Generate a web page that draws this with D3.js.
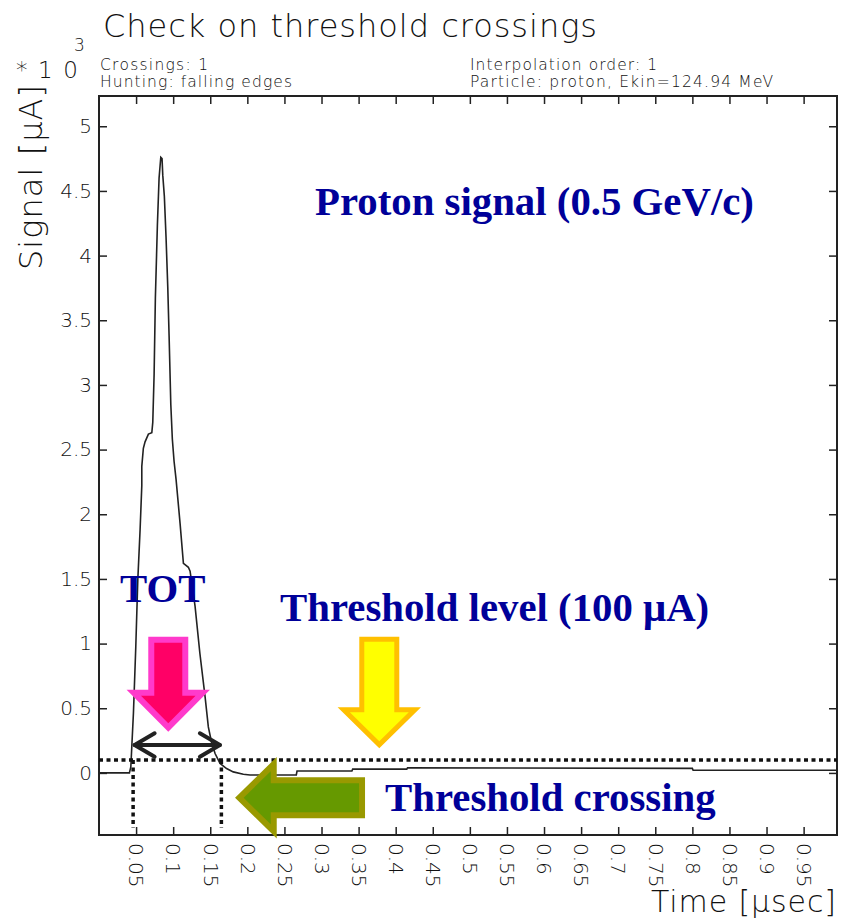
<!DOCTYPE html>
<html>
<head>
<meta charset="utf-8">
<script src="https://cdn.jsdelivr.net/npm/d3@7"></script>
<style>
  html, body { margin: 0; padding: 0; background: #fff; }
  svg { display: block; }
  .thin { font-family: "DejaVu Sans", "Noto Sans", sans-serif; font-weight: 200; fill: #111; }
  .note { font-family: "Liberation Serif", "Times New Roman", serif; font-weight: bold; fill: #000099; font-size: 40.8px; }
</style>
</head>
<body>
<script>
// Pulse shape: time in µs, signal in units of 10^3 µA
const time = [0, 0.041, 0.0429, 0.0442, 0.0464, 0.0496, 0.0523, 0.0554, 0.0577, 0.0577,
  0.0598, 0.0621, 0.0666, 0.0712, 0.0725, 0.0743, 0.0760, 0.0787, 0.0810, 0.0833,
  0.0850, 0.0860, 0.0881, 0.0904, 0.0927, 0.0945, 0.0968, 0.0989, 0.1012, 0.1039,
  0.1093, 0.1138, 0.1160, 0.1205, 0.1228, 0.1295, 0.1360, 0.1430, 0.1474, 0.1520,
  0.1565, 0.1632, 0.1720, 0.1810, 0.1946, 0.2036, 0.266, 0.267, 0.341, 0.342,
  0.415, 0.416, 0.800, 0.801, 0.995];
const signal = [0, 0, 0.046, 0.20, 0.46, 0.976, 1.49, 1.88, 2.22, 2.37,
  2.51, 2.56, 2.62, 2.63, 2.71, 3.08, 3.67, 4.23, 4.60, 4.76,
  4.75, 4.62, 4.46, 4.14, 3.76, 3.38, 2.85, 2.58, 2.41, 2.27,
  1.93, 1.62, 1.61, 1.59, 1.56, 1.29, 0.925, 0.59, 0.356, 0.23,
  0.15, 0.073, 0.034, 0.008, -0.01, -0.016, -0.016, 0.015, 0.015, 0.029,
  0.029, 0.04, 0.035, 0.021, 0.021];

const threshold = 0.1;            // 100 µA
const crossingTimes = [0.046, 0.165];

const xTicks = [0.05, 0.1, 0.15, 0.2, 0.25, 0.3, 0.35, 0.4, 0.45, 0.5,
  0.55, 0.6, 0.65, 0.7, 0.75, 0.8, 0.85, 0.9, 0.95];
const xTickLabels = ["0.05", "0.1", "0.15", "0.2", "0.25", "0.3", "0.35", "0.4", "0.45", "0.5",
  "0.55", "0.6", "0.65", "0.7", "0.75", "0.8", "0.85", "0.9", "0.95"];
const yTicks = [0, 0.5, 1, 1.5, 2, 2.5, 3, 3.5, 4, 4.5, 5];
const yTickLabels = ["0", "0.5", "1", "1.5", "2", "2.5", "3", "3.5", "4", "4.5", "5"];

const W = 842, H = 921;
const L = 99, R = 837, T = 96, B = 835;

const svg = d3.select("body").append("svg").attr("width", W).attr("height", H);

const x = d3.scaleLinear().domain([0, 0.995]).range([L, R]);
const y = d3.scaleLinear().domain([-0.48, 5.234]).range([B, T]);

// Frame
svg.append("rect").attr("x", L).attr("y", T).attr("width", R - L).attr("height", B - T)
  .attr("fill", "none").attr("stroke", "#222").attr("stroke-width", 2);

function styleAxis(g) {
  g.select(".domain").remove();
  g.selectAll(".tick line").attr("stroke", "#222").attr("stroke-width", 1.5);
  g.selectAll("text").attr("class", "thin").style("font-size", "20px").attr("fill", "#111");
}

const gL = svg.append("g").attr("transform", `translate(${L},0)`)
  .call(d3.axisLeft(y).tickValues(yTicks).tickFormat((d, i) => yTickLabels[i])
    .tickSizeInner(-8).tickSizeOuter(0).tickPadding(7));
styleAxis(gL);

const gR = svg.append("g").attr("transform", `translate(${R},0)`)
  .call(d3.axisRight(y).tickValues(yTicks).tickFormat("").tickSizeInner(-8).tickSizeOuter(0));
styleAxis(gR);

const gB = svg.append("g").attr("transform", `translate(0,${B})`)
  .call(d3.axisBottom(x).tickValues(xTicks).tickFormat((d, i) => xTickLabels[i])
    .tickSizeInner(-8).tickSizeOuter(0));
styleAxis(gB);
gB.selectAll("text")
  .attr("transform", "rotate(90)").attr("x", 8).attr("y", 0).attr("dy", "0.36em")
  .style("text-anchor", "start");

const gT = svg.append("g").attr("transform", `translate(0,${T})`)
  .call(d3.axisTop(x).tickValues(xTicks).tickFormat("").tickSizeInner(-8).tickSizeOuter(0));
styleAxis(gT);

// Titles and info lines
svg.append("text").attr("class", "thin").attr("x", 103).attr("y", 37)
  .style("font-size", "32px").attr("textLength", 494).text("Check on threshold crossings");
svg.append("text").attr("class", "thin").attr("x", 16).attr("y", 78)
  .style("font-size", "23px").attr("textLength", 62).text("*10");
svg.append("text").attr("class", "thin").attr("x", 74).attr("y", 51)
  .style("font-size", "17px").text("3");

const info = [
  { t: "Crossings: 1", x: 100, y: 70, w: 108 },
  { t: "Hunting: falling edges", x: 100, y: 87, w: 192 },
  { t: "Interpolation order: 1", x: 470, y: 69.5, w: 187 },
  { t: "Particle: proton, Ekin=124.94 MeV", x: 470, y: 87, w: 303 }
];
svg.selectAll("text.info").data(info).enter().append("text")
  .attr("class", "thin info").attr("x", d => d.x).attr("y", d => d.y)
  .style("font-size", "15.5px").attr("textLength", d => d.w).text(d => d.t);

svg.append("text").attr("class", "thin")
  .attr("transform", "translate(42,270) rotate(-90)")
  .style("font-size", "32px").attr("textLength", 185).text("Signal [\u03bcA]");
svg.append("text").attr("class", "thin").attr("x", 836).attr("y", 912)
  .style("text-anchor", "end").style("font-size", "30px").attr("textLength", 185)
  .text("Time [\u03bcsec]");

// Pulse curve
svg.append("clipPath").attr("id", "plotClip").append("rect")
  .attr("x", L).attr("y", T).attr("width", R - L).attr("height", B - T);
const pts = time.map((t, i) => [t, signal[i]]);
svg.append("path").datum(pts).attr("clip-path", "url(#plotClip)")
  .attr("fill", "none").attr("stroke", "#222").attr("stroke-width", 1.6)
  .attr("d", d3.line().x(d => x(d[0])).y(d => y(d[1])));

// Threshold level and crossing markers
const dotted = { stroke: "#111", "stroke-width": 3.5, "stroke-dasharray": "4 3.5" };
function applyAttrs(sel, a) { Object.entries(a).forEach(([k, v]) => sel.attr(k, v)); return sel; }
applyAttrs(svg.append("line").attr("x1", L).attr("x2", R)
  .attr("y1", y(threshold)).attr("y2", y(threshold)), dotted);
crossingTimes.forEach(t => {
  applyAttrs(svg.append("line").attr("x1", x(t)).attr("x2", x(t))
    .attr("y1", y(threshold)).attr("y2", y(-0.426)), dotted);
});

// Block arrows
function inset(poly, d) {
  const n = poly.length;
  let area = 0;
  for (let i = 0; i < n; i++) {
    const a = poly[i], b = poly[(i + 1) % n];
    area += a[0] * b[1] - b[0] * a[1];
  }
  const s = area > 0 ? 1 : -1;
  const lines = poly.map((a, i) => {
    const b = poly[(i + 1) % n];
    const len = Math.hypot(b[0] - a[0], b[1] - a[1]);
    const u = [(b[0] - a[0]) / len, (b[1] - a[1]) / len];
    const nv = [-u[1] * s, u[0] * s];
    return { p: [a[0] + d * nv[0], a[1] + d * nv[1]], u };
  });
  return poly.map((_, i) => {
    const l1 = lines[(i - 1 + n) % n], l2 = lines[i];
    const cr = l1.u[0] * l2.u[1] - l1.u[1] * l2.u[0];
    const dx = l2.p[0] - l1.p[0], dy = l2.p[1] - l1.p[1];
    const t = (dx * l2.u[1] - dy * l2.u[0]) / cr;
    return [l1.p[0] + t * l1.u[0], l1.p[1] + t * l1.u[1]];
  });
}
function blockArrow(tip, angle, len, shaftHalf, headHalf, headLen, border, edge, fill) {
  const poly = [[-shaftHalf, -len], [shaftHalf, -len], [shaftHalf, -headLen], [headHalf, -headLen],
    [0, 0], [-headHalf, -headLen], [-shaftHalf, -headLen]];
  const g = svg.append("g").attr("transform", `translate(${x(tip[0])},${y(tip[1])}) rotate(${angle})`);
  g.append("polygon").attr("points", poly.map(p => p.join(",")).join(" ")).attr("fill", edge);
  g.append("polygon").attr("points", inset(poly, border).map(p => p.join(",")).join(" ")).attr("fill", fill);
}
blockArrow([0.0934, 0.319], 0, 95, 20, 41.7, 42, 6, "#ff3acb", "#ff0066");
blockArrow([0.3779, 0.190], 0, 111.6, 20, 41.7, 41, 5, "#ffc000", "#ffff00");
blockArrow([0.1834, -0.192], 90, 130, 20.5, 40.8, 41.7, 6, "#999900", "#669900");

// Time-over-threshold span
const ya = y(0.216), x0 = x(crossingTimes[0]) + 1.5, x1 = x(crossingTimes[1]) - 1.5;
const tot = svg.append("g").attr("fill", "none").attr("stroke", "#222")
  .attr("stroke-width", 4).attr("stroke-linecap", "round").attr("stroke-linejoin", "round");
tot.append("line").attr("x1", x0).attr("x2", x1).attr("y1", ya).attr("y2", ya);
tot.append("polyline").attr("points", `${x0 + 20},${ya - 11.7} ${x0},${ya} ${x0 + 20},${ya + 11.7}`);
tot.append("polyline").attr("points", `${x1 - 20},${ya - 11.7} ${x1},${ya} ${x1 - 20},${ya + 11.7}`);

// Annotations
const notes = [
  { t: "Proton signal (0.5 GeV/c)", x: 315, y: 215 },
  { t: "TOT", x: 120, y: 601.5 },
  { t: "Threshold level (100 \u03bcA)", x: 280, y: 621 },
  { t: "Threshold crossing", x: 385, y: 811 }
];
svg.selectAll("text.note").data(notes).enter().append("text")
  .attr("class", "note").attr("x", d => d.x).attr("y", d => d.y).text(d => d.t);
</script>
</body>
</html>
